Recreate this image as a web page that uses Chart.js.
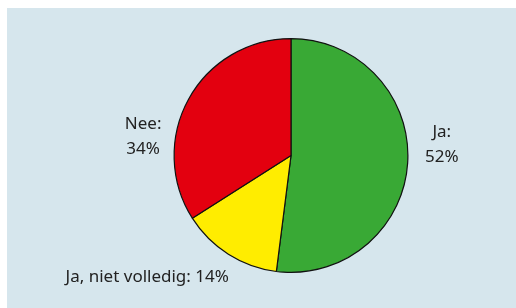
<!DOCTYPE html>
<html>
<head>
<meta charset="utf-8">
<script src="https://cdn.jsdelivr.net/npm/chart.js@4"></script>
<style>
  html, body { margin: 0; padding: 0; background: #fff; }
  #panel { position: absolute; left: 7px; top: 8px; width: 509px; height: 300px; background: #d6e6ed; }
</style>
</head>
<body>
<div id="panel"><canvas id="myChart" width="509" height="300"></canvas></div>
<script>
const labels = ["Ja", "Ja, niet volledig", "Nee"];
const values = [52, 14, 34];
const colors = ["#39a935", "#ffed00", "#e3000f"];
// label texts, one line per entry
const labelLines = [["Ja:", "52%"], ["Ja, niet volledig: 14%"], ["Nee:", "34%"]];
// label anchor relative to pie centre, in units of the radius
const labelPos = [[1.29, -0.09], [-1.23, 1.04], [-1.265, -0.16]];

const labelPlugin = {
  id: "sliceLabels",
  afterDraw(chart) {
    const c = chart.ctx;
    const arcs = chart.getDatasetMeta(0).data;
    c.save();
    c.font = "17px 'Noto Sans'";
    c.fillStyle = "#222";
    c.textAlign = "center";
    c.textBaseline = "middle";
    arcs.forEach((arc, i) => {
      const lines = labelLines[i];
      const cx = arc.x + labelPos[i][0] * arc.outerRadius;
      const cy = arc.y + labelPos[i][1] * arc.outerRadius;
      const lh = 25;
      lines.forEach((t, j) => {
        c.fillText(t, cx, cy + (j - (lines.length - 1) / 2) * lh);
      });
    });
    c.restore();
  }
};

const ctx = document.getElementById("myChart");
const config = {
  type: "pie",
  data: {
    labels: labels,
    datasets: [
      {
        data: values,
        backgroundColor: colors,
        borderColor: "#111",
        borderWidth: 1.2,
      },
    ],
  },
  options: {
    responsive: false,
    animation: false,
    layout: { padding: { left: 100, right: 41, top: 30, bottom: 35 } },
    plugins: {
      legend: { display: false },
      tooltip: { enabled: false },
    },
  },
  plugins: [labelPlugin],
};
myChart = new Chart(ctx, config);
</script>
</body>
</html>
